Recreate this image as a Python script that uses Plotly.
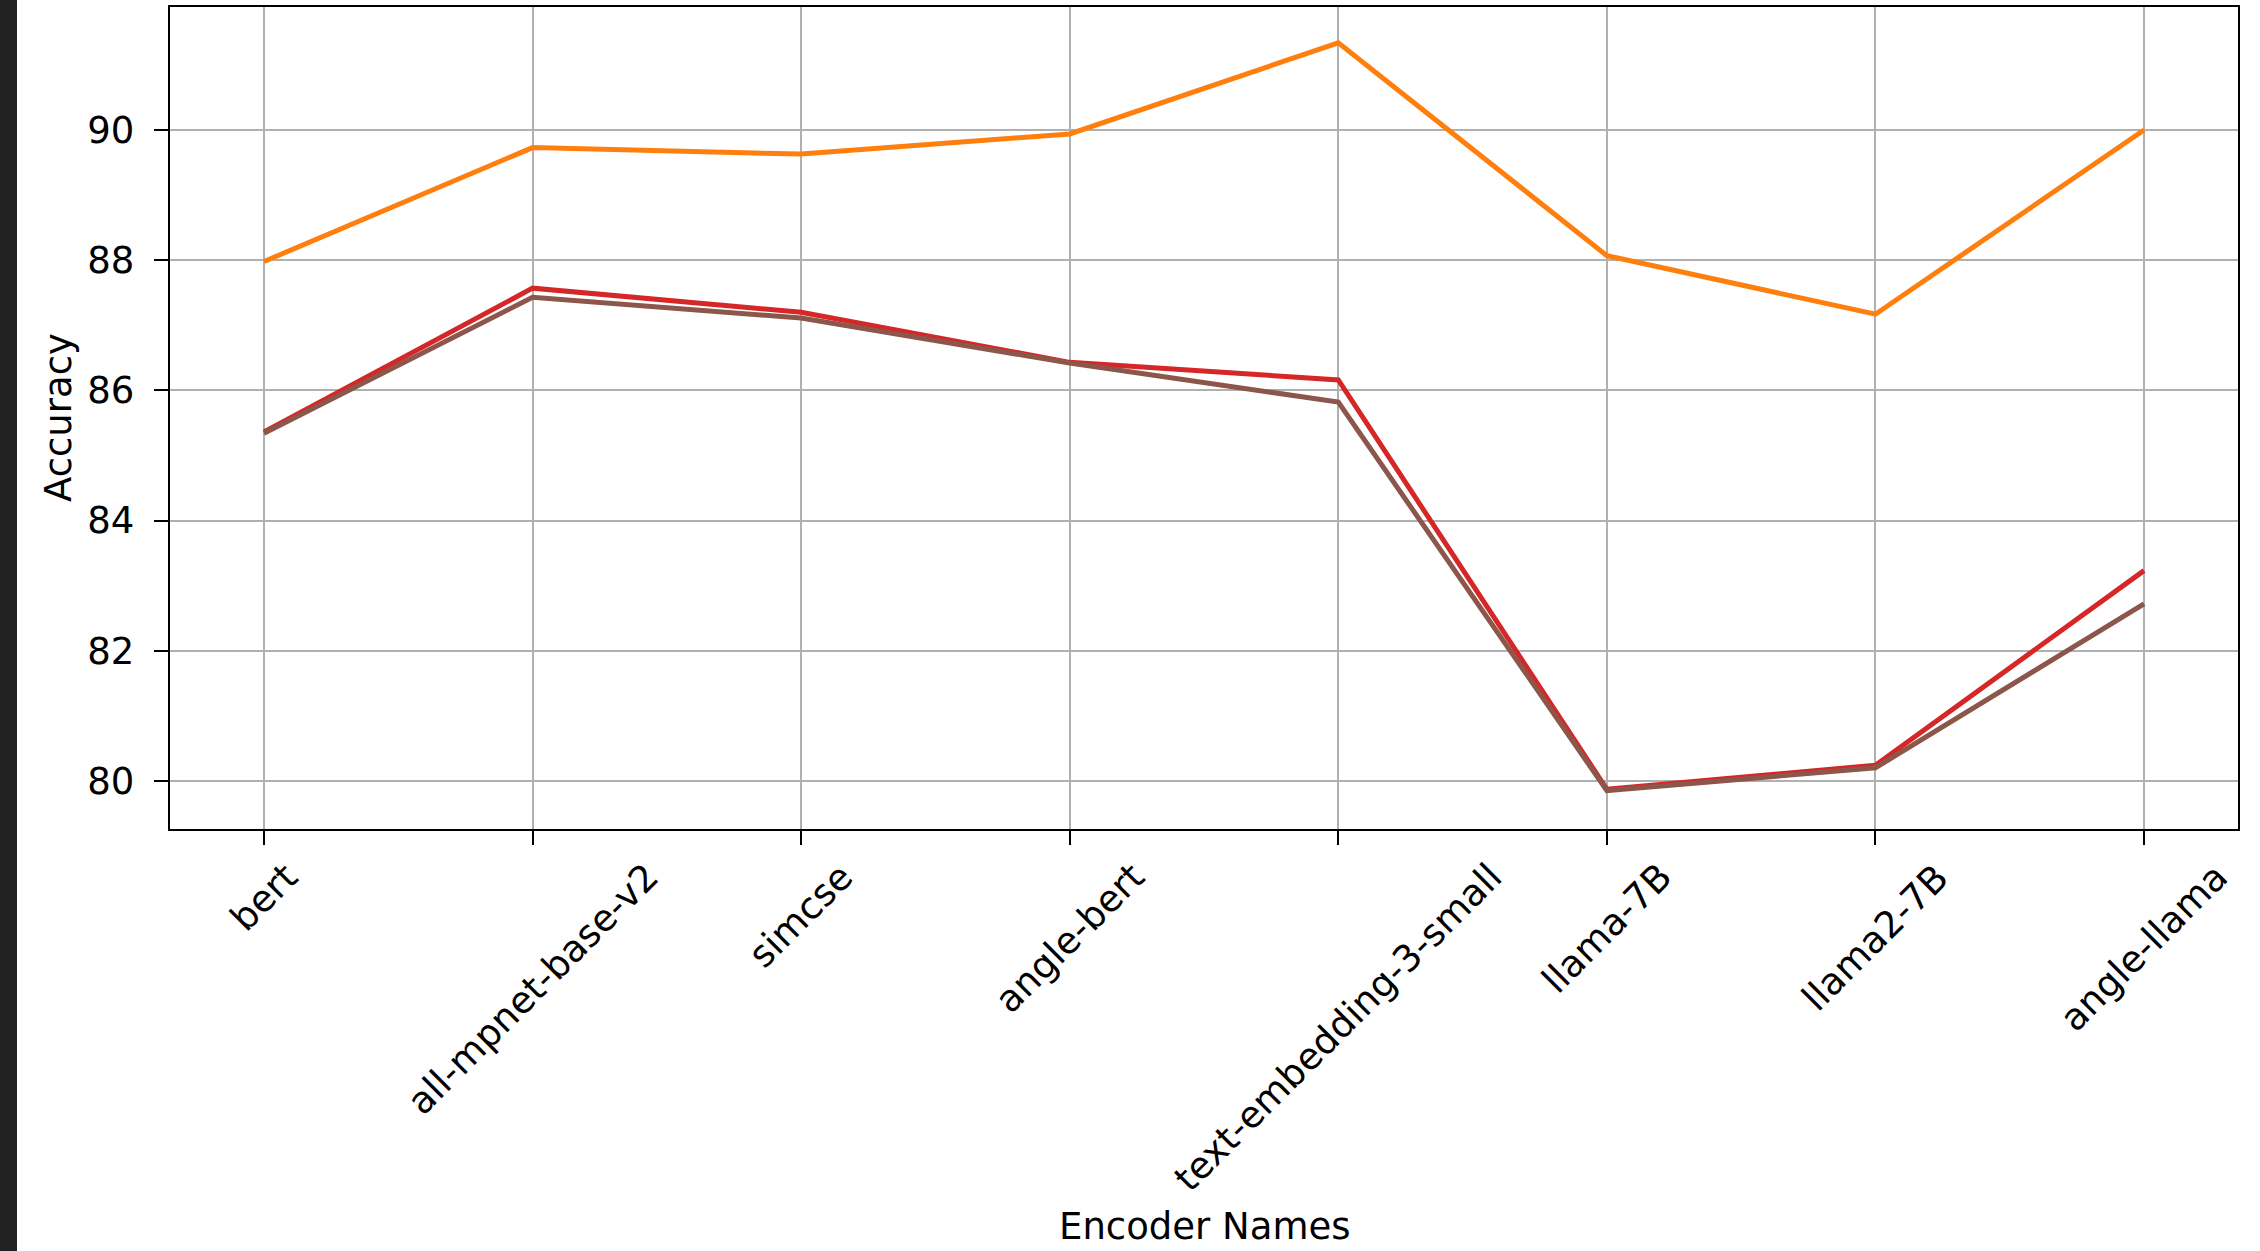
import plotly.graph_objects as go

# Encoders on the x axis
encoders = ["bert", "all-mpnet-base-v2", "simcse", "angle-bert",
            "text-embedding-3-small", "llama-7B", "llama2-7B", "angle-llama"]

# Accuracy per encoder for each run
acc_orange = [87.98, 89.73, 89.63, 89.94, 91.34, 88.07, 87.17, 90.00]
acc_red = [85.36, 87.57, 87.20, 86.43, 86.16, 79.87, 80.24, 83.23]
acc_brown = [85.34, 87.43, 87.11, 86.42, 85.82, 79.85, 80.20, 82.72]

y_ticks = [80, 82, 84, 86, 88, 90]

FONT = "DejaVu Sans"
FS = 37
W, H = 2260, 1251
M_L, M_R, M_T, M_B = 170, 22, 7, 422
plot_w = W - M_L - M_R
plot_h = H - M_T - M_B

fig = go.Figure()
for vals, color in [(acc_orange, "#ff7f0e"), (acc_red, "#d62728"), (acc_brown, "#8c564b")]:
    fig.add_trace(go.Scatter(x=encoders, y=vals, mode="lines",
                             line=dict(color=color, width=5),
                             showlegend=False))

axis_common = dict(
    showgrid=True, gridcolor="#b0b0b0", gridwidth=2.4,
    showline=True, linecolor="black", linewidth=2.4, mirror=True,
    ticks="outside", ticklen=14, tickwidth=2.4, tickcolor="black",
    zeroline=False, automargin=False,
)

fig.update_layout(
    width=W, height=H,
    margin=dict(l=M_L, r=M_R, t=M_T, b=M_B, pad=0),
    paper_bgcolor="white", plot_bgcolor="white",
    font=dict(family=FONT, size=FS, color="black"),
    xaxis=dict(type="category", range=[-0.35, 7.35], showticklabels=False,
               **axis_common),
    yaxis=dict(range=[79.26, 91.89], tickvals=y_ticks,
               ticktext=[str(v) for v in y_ticks],
               tickfont=dict(family=FONT, size=FS, color="black"),
               ticklabelstandoff=12, **axis_common),
)

# Rotated category labels, centred under each tick
for name in encoders:
    fig.add_annotation(x=name, xref="x", y=-(854 - (M_T + plot_h)) / plot_h, yref="paper",
                       text=name, textangle=-45, showarrow=False,
                       xanchor="center", yanchor="top", borderpad=0,
                       font=dict(family=FONT, size=FS, color="black"))

# Axis titles
fig.add_annotation(x=0.5, xref="paper", y=-(1226 - (M_T + plot_h)) / plot_h, yref="paper",
                   text="Encoder Names", showarrow=False, xanchor="center", yanchor="middle",
                   font=dict(family=FONT, size=FS, color="black"))
fig.add_annotation(x=(58 - M_L) / plot_w, xref="paper", y=0.5, yref="paper",
                   text="Accuracy", textangle=-90, showarrow=False,
                   xanchor="center", yanchor="middle",
                   font=dict(family=FONT, size=FS, color="black"))

# Dark strip along the left edge of the canvas
fig.add_shape(type="rect", xref="paper", yref="paper",
              x0=(0 - M_L) / plot_w, x1=(17 - M_L) / plot_w,
              y0=-(H - M_T - plot_h) / plot_h - 0.01, y1=1 + M_T / plot_h + 0.01,
              fillcolor="#222222", line=dict(width=0), layer="above")

fig.write_html("out.html")
